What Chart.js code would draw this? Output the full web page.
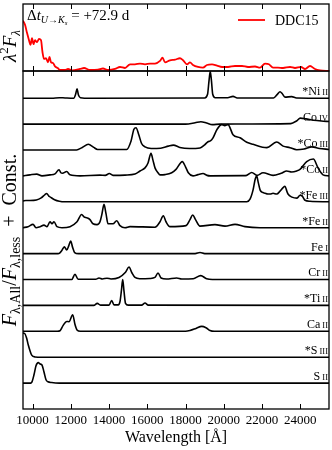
<!DOCTYPE html>
<html>
<head>
<meta charset="utf-8">
<script src="https://cdn.jsdelivr.net/npm/chart.js@4.4.0/dist/chart.umd.min.js"></script>
<style>
  html, body { margin: 0; padding: 0; background: #fff; }
  #wrap { position: relative; width: 332px; height: 450px; }
  #wrap canvas { position: absolute; left: 0; top: 0; }
</style>
</head>
<body>
<div id="wrap">
  <canvas id="ratioChart" width="332" height="450"></canvas>
  <canvas id="fluxChart" width="332" height="76"></canvas>
</div>
<script>
// Marcas do eixo x (Å)
const xTicks = [10000, 12000, 14000, 16000, 18000, 20000, 22000, 24000];

// Espectro DDC15 (lambda^2 F_lambda, normalizado) - [comprimento de onda, fluxo]
const ddc15 = [[9500,0.75],[9605,0.69],[9709,0.57],[9814,0.46],[9892,0.39],[9971,0.49],[10049,0.40],[10127,0.46],
  [10232,0.43],[10337,0.48],[10441,0.46],[10520,0.28],[10598,0.18],[10703,0.19],[10807,0.13],[10886,0.21],
  [10964,0.13],[11069,0.12],[11173,0.07],[11330,0.04],[11435,0.015],[11696,0.015],[11853,0.03],[12062,0.01],
  [12480,0.03],[12690,0.045],[13003,0.015],[13422,0.02],[13683,0.037],[13945,0.015],[14311,0.03],[14572,0.06],
  [14834,0.045],[15095,0.1],[15356,0.1],[15618,0.11],[15880,0.1],[16141,0.11],[16402,0.11],[16664,0.15],
  [16795,0.2],[16925,0.13],[17186,0.16],[17448,0.17],[17709,0.19],[17866,0.16],[18075,0.1],[18232,0.13],
  [18389,0.09],[18650,0.06],[18912,0.05],[19121,0.09],[19383,0.1],[19644,0.08],[19906,0.06],[20220,0.06],
  [20585,0.075],[20951,0.075],[21265,0.06],[21632,0.067],[21893,0.05],[22155,0.11],[22360,0.1],[22573,0.05],
  [22834,0.05],[23095,0.045],[23461,0.06],[23723,0.045],[24037,0.06],[24246,0.03],[24507,0.075],[24768,0.03],
  [25030,0.01],[25500,0]];

// Razões F_All/F_less por íon - [comprimento de onda, excesso sobre a linha de base]
const niII = [[9500,0],[11000,0],[11400,0.02],[11700,0.01],[12150,0],[12250,0.15],[12324,0.36],[12400,0.12],
  [12500,0.02],[13000,0],[19000,0.01],[19150,0.15],[19230,0.7],[19290,1.03],[19350,0.7],[19420,0.15],
  [19550,0.02],[20200,0.02],[20481,0.07],[20700,0.01],[22600,0.01],[22800,0.15],[22939,0.25],[23050,0.18],
  [23200,0.04],[23550,0.06],[23800,0.01],[25500,0]];
const coIV = [[9500,0],[18000,0],[18500,0.05],[18800,0.09],[19100,0.04],[19400,-0.02],[19800,0],[23500,0.02],
  [23800,0.12],[24000,0.23],[24300,0.2],[24700,0.15],[25100,0.12],[25500,0.1]];
const coIII = [[9500,0],[12300,0],[12600,0.1],[12915,0.22],[13200,0.1],[13400,0.02],[14923,0.02],[15150,0.35],
  [15300,0.8],[15409,0.86],[15550,0.6],[15700,0.25],[15880,0.12],[16200,0.06],[16700,0.07],[17100,0.15],
  [17360,0.19],[17700,0.1],[18200,0.06],[18755,0.08],[19000,0.2],[19174,0.32],[19300,0.35],[19435,0.47],
  [19650,0.8],[19890,0.98],[20050,0.94],[20219,0.98],[20481,0.59],[20847,0.47],[21200,0.3],[21527,0.22],
  [22243,0.09],[22766,0.31],[23100,0.15],[23461,0.09],[23812,0.01],[24200,0.04],[24600,0.12],[25000,0.06],
  [25500,0.02]];
const coII = [[9500,0],[9866,0.04],[10216,0.07],[10493,0],[10912,0.04],[11173,0.08],[11383,0.24],[11480,0.12],
  [11565,0.1],[11785,0.17],[11958,0.04],[12480,0],[13526,0.03],[13800,0.02],[14013,0.09],[14206,0.02],
  [14834,0.03],[15356,0.07],[15618,0.19],[15880,0.31],[16037,0.5],[16193,0.87],[16298,0.6],[16402,0.31],
  [16559,0.12],[16664,0.04],[16925,0.05],[17276,0.12],[17500,0.25],[17830,0.55],[17997,0.35],[18144,0.12],
  [18389,0],[18651,0.05],[18912,0.09],[19121,0.02],[19278,0],[21000,0.01],[21197,0.02],[21459,0.13],
  [21736,0.02],[22050,0.12],[22573,0.02],[23000,0.1],[23289,0.19],[23550,0.15],[23812,0.19],[23984,0.25],
  [24335,0.55],[24680,0.65],[24926,0.31],[25187,0.04],[25500,0]];
const feIII = [[9500,0.03],[9650,0.05],[9866,0.05],[10200,0.07],[10450,0.15],[10650,0.28],[10739,0.32],
  [10850,0.22],[10912,0.19],[11150,0.08],[11400,0.02],[11700,0],[21200,0],[21370,0.1],[21527,0.45],
  [21650,0.9],[21720,0.99],[21800,0.75],[21900,0.45],[21998,0.37],[22155,0.33],[22300,0.3],[22416,0.3],
  [22573,0.33],[22766,0.3],[22939,0.41],[23100,0.55],[23200,0.6],[23300,0.4],[23357,0.3],[23566,0.18],
  [23827,0.14],[23984,0.25],[24100,0.22],[24246,0.06],[24507,0.02],[25500,0]];
const feII = [[9500,0],[9761,0.04],[10023,0.13],[10180,0],[10389,0.04],[10598,0.1],[10755,0.04],[10912,0.23],
  [11016,0.15],[11121,0.23],[11278,0.04],[11539,0],[11958,0.04],[12324,0.23],[12569,0.51],[12689,0.42],
  [12846,0.38],[13003,0.31],[13160,0.15],[13369,0.12],[13526,0.23],[13631,0.54],[13735,0.9],[13840,0.54],
  [13945,0.15],[14206,0.15],[14400,0.27],[14572,0.08],[14834,0],[15095,0.04],[16402,0.02],[16664,0.23],
  [16836,0.46],[16977,0.23],[17186,0.04],[18023,0.08],[18232,0.31],[18374,0.49],[18520,0.31],[18755,0.06],
  [19539,0.12],[20063,0.06],[20585,0.13],[21108,0.04],[21893,0],[25500,0]];
const feI = [[9500,0],[11330,0],[11430,0.03],[11530,0.12],[11660,0.26],[11785,0.14],[11900,0.32],[11994,0.48],
  [12090,0.25],[12200,0.04],[12400,0],[18500,0],[18755,0.04],[19000,0],[25500,0]];
const crII = [[9500,0],[12050,0],[12219,0.2],[12380,0.01],[13300,0.01],[13474,0.06],[13650,0.02],[13892,0.05],
  [14100,0.02],[14520,0.08],[14860,0.28],[15043,0.48],[15200,0.25],[15356,0.08],[15600,0.03],[16141,0.04],
  [16400,0.08],[16559,0.25],[16720,0.06],[17000,0.02],[17537,0.06],[17800,0.02],[18400,0.03],[18792,0.15],
  [19100,0.03],[19400,0],[25500,0]];
const tiII = [[9500,0],[13200,0],[13385,0.08],[13550,0.01],[14000,0.01],[14138,0.19],[14260,0.02],[14480,0.02],
  [14572,0.15],[14650,0.6],[14713,1.0],[14781,0.55],[14860,0.08],[15000,0.01],[15700,0.01],[15880,0.09],
  [16050,0.01],[25500,0]];
const caII = [[9500,0],[11300,0],[11435,0.02],[11592,0.22],[11785,0.38],[11905,0.37],[12099,0.64],[12219,0.26],
  [12324,0.05],[12500,0],[18000,0],[18232,0.03],[18546,0.11],[18844,0.19],[19069,0.14],[19278,0.03],
  [19500,0],[25500,0]];
const sIII = [[9500,0.93],[9580,0.92],[9683,0.75],[9777,0.47],[9866,0.25],[9955,0.08],[10127,0.01],[10500,0],
  [25500,0]];
const sII = [[9500,0],[9900,0],[9970,0.05],[10075,0.32],[10180,0.67],[10300,0.79],[10389,0.74],[10493,0.7],
  [10598,0.43],[10703,0.13],[10807,0.05],[11000,0.02],[11400,0],[25500,0]];

// Ordem de cima para baixo, com nomes e constantes somadas
const ionSeries = [niII, coIV, coIII, coII, feIII, feII, feI, crII, tiII, caII, sIII, sII];
const ionNames = ['*Ni', 'Co', '*Co', '*Co', '*Fe', '*Fe', 'Fe', 'Cr', '*Ti', 'Ca', '*S', 'S'];
const ionStages = ['II', 'IV', 'III', 'II', 'III', 'II', 'I', 'II', 'II', 'II', 'III', 'II'];
const ionOffsets = [12, 11, 10, 9, 8, 7, 6, 5, 4, 3, 2, 1];

const serif = '"Liberation Serif", "DejaVu Serif", serif';
function f(size, style) {
    return (style ? style + ' ' : '') + size + 'px ' + serif;
}

// Desenha texto com sub/sobrescritos: partes = [texto, fonte, deslocamento y]
function drawRich(ctx, parts, x, y, align, angle) {
    ctx.save();
    ctx.translate(x, y);
    if (angle) ctx.rotate(angle);
    ctx.fillStyle = '#000';
    ctx.textBaseline = 'alphabetic';
    let total = 0;
    parts.forEach(p => {
        ctx.font = p[1];
        p.w = ctx.measureText(p[0]).width;
        total += p.w;
    });
    let cx = align === 'center' ? -total / 2 : (align === 'right' ? -total : 0);
    parts.forEach(p => {
        ctx.font = p[1];
        ctx.fillText(p[0], cx, p[2] || 0);
        cx += p.w;
    });
    ctx.restore();
}

// Moldura e marcas internas (em cima e embaixo)
const frame = {
    id: 'frame',
    afterDraw(chart) {
        const { ctx, chartArea: a, scales: { x } } = chart;
        ctx.save();
        ctx.strokeStyle = '#000';
        ctx.lineWidth = 1.3;
        ctx.strokeRect(a.left, a.top, a.right - a.left, a.bottom - a.top);
        ctx.lineWidth = 1;
        xTicks.forEach(v => {
            const px = Math.round(x.getPixelForValue(v)) + 0.5;
            ctx.beginPath();
            ctx.moveTo(px, a.top);
            ctx.lineTo(px, a.top + 5);
            ctx.moveTo(px, a.bottom);
            ctx.lineTo(px, a.bottom - 5);
            ctx.stroke();
        });
        ctx.restore();
    }
};

// Textos do painel de cima
const fluxText = {
    id: 'fluxText',
    afterDraw(chart) {
        const ctx = chart.ctx;
        drawRich(ctx, [['λ', f(19, 'italic')], ['2', f(13), -8], ['F', f(19, 'italic')], ['λ', f(13, 'italic'), 4]],
            16, 46, 'center', -Math.PI / 2);
        drawRich(ctx, [['Δ', f(15)], ['t', f(15, 'italic')], ['U→K', f(10, 'italic'), 3], ['s', f(7, 'italic'), 5],
            [' = +72.9 d', f(15)]], 27, 20, 'left');
        ctx.save();
        ctx.strokeStyle = 'red';
        ctx.lineWidth = 1.8;
        ctx.beginPath();
        ctx.moveTo(238, 20);
        ctx.lineTo(265, 20);
        ctx.stroke();
        ctx.restore();
        drawRich(ctx, [['DDC15', f(14)]], 275, 25, 'left');
    }
};

// Textos do painel de baixo
const ratioText = {
    id: 'ratioText',
    afterDraw(chart) {
        const ctx = chart.ctx;
        const y = chart.scales.y;
        drawRich(ctx, [['F', f(20, 'italic')], ['λ,All', f(14), 4], ['/', f(20)], ['F', f(20, 'italic')],
            ['λ,less', f(14), 4], ['  +  Const.', f(20)]], 16, 240, 'center', -Math.PI / 2);
        ionNames.forEach((name, i) => {
            drawRich(ctx, [[name, f(12)], [' ' + ionStages[i], f(8.5)]],
                328, y.getPixelForValue(ionOffsets[i]) - 3, 'right');
        });
    }
};

// Painel de baixo: razões deslocadas
new Chart(document.getElementById('ratioChart'), {
    type: 'line',
    data: {
        datasets: ionSeries.map((s, i) => ({
            data: s.map(p => ({ x: p[0], y: ionOffsets[i] + p[1] })),
            borderColor: '#000',
            borderWidth: 1.6,
            pointRadius: 0,
            cubicInterpolationMode: 'monotone'
        }))
    },
    options: {
        responsive: false,
        animation: false,
        layout: { padding: { left: 23, right: 3, top: 71, bottom: 0 } },
        plugins: { legend: { display: false }, tooltip: { enabled: false } },
        scales: {
            x: {
                type: 'linear', min: 9500, max: 25500,
                afterBuildTicks: s => { s.ticks = xTicks.map(v => ({ value: v })); },
                afterFit: s => { s.height = 41; },
                grid: { display: false, drawTicks: false },
                border: { display: false },
                ticks: { color: '#000', font: { family: serif, size: 13 }, padding: 4, maxRotation: 0,
                    callback: v => String(v) },
                title: { display: true, text: 'Wavelength [Å]', color: '#000',
                    font: { family: serif, size: 16 }, padding: { top: 0, bottom: 3 } }
            },
            y: { display: false, min: 0, max: 13.05 }
        }
    },
    plugins: [frame, ratioText]
});

// Painel de cima: espectro DDC15
new Chart(document.getElementById('fluxChart'), {
    type: 'line',
    data: {
        datasets: [{
            data: ddc15.map(p => ({ x: p[0], y: p[1] })),
            borderColor: 'red',
            borderWidth: 1.8,
            pointRadius: 0,
            cubicInterpolationMode: 'monotone'
        }]
    },
    options: {
        responsive: false,
        animation: false,
        layout: { padding: { left: 23, right: 3, top: 4, bottom: 5 } },
        plugins: { legend: { display: false }, tooltip: { enabled: false } },
        scales: {
            x: { type: 'linear', display: false, min: 9500, max: 25500 },
            y: { display: false, min: 0, max: 1 }
        }
    },
    plugins: [frame, fluxText]
});
</script>
</body>
</html>
